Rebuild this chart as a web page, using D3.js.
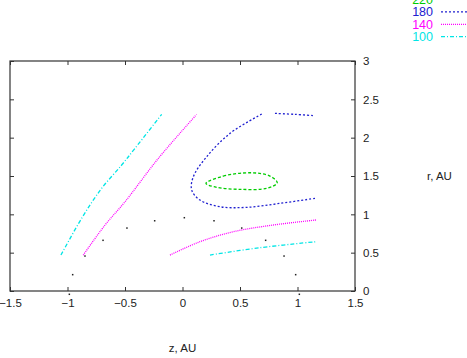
<!DOCTYPE html>
<html>
<head>
<meta charset="utf-8">
<script src="https://cdn.jsdelivr.net/npm/d3@7"></script>
<style>
  body { margin: 0; background: #fff; }
  svg { display: block; font-family: "Liberation Sans", Arial, sans-serif; }
</style>
</head>
<body>
<div id="chart"></div>
<script>
// contour levels, legend order
const levels = ["220", "180", "140", "100"];
const levelColors = ["#00cc00", "#2020d0", "#ff00ff", "#00e5e5"];
const levelDash = ["3,2", "2,2", "1,1", "4,2,1,2"];

const xTicks = [-1.5, -1, -0.5, 0, 0.5, 1, 1.5];
const yTicks = [0, 0.5, 1, 1.5, 2, 2.5, 3];

// contour pieces as [z, r]
const c220 = [[0.204, 1.404], [0.355, 1.499], [0.602, 1.542], [0.761, 1.499], [0.824, 1.412],
              [0.732, 1.339], [0.5, 1.326], [0.297, 1.352]];
const c180a = [[0.689, 2.308], [0.413, 2.056], [0.210, 1.751], [0.094, 1.490], [0.080, 1.317],
               [0.152, 1.186], [0.326, 1.099], [0.558, 1.091], [0.848, 1.143], [1.152, 1.209]];
const c180b = [[0.804, 2.317], [0.978, 2.304], [1.152, 2.286]];
const c140a = [[-0.863, 0.469], [-0.674, 0.860], [-0.5, 1.164], [-0.210, 1.730], [0.123, 2.304]];
const c140b = [[-0.109, 0.469], [0.152, 0.643], [0.442, 0.773], [0.790, 0.861], [1.161, 0.926]];
const c100a = [[-1.057, 0.469], [-0.877, 0.948], [-0.703, 1.339], [-0.529, 1.643],
               [-0.413, 1.861], [-0.181, 2.304]];
const c100b = [[0.239, 0.469], [0.674, 0.565], [1.161, 0.643]];

// black sample points
const dots = [[-0.984, -0.043], [-0.955, 0.213], [-0.848, 0.456], [-0.691, 0.661], [-0.483, 0.821],
              [-0.242, 0.916], [0.016, 0.956], [0.274, 0.916], [0.515, 0.821], [0.723, 0.661],
              [0.883, 0.456], [0.984, 0.213], [1.016, -0.043]];

const W = 467, H = 358;
const pLeft = 10, pRight = 355, pTop = 61, pBottom = 291;

let svg = d3.select("#chart").append("svg")
    .attr("width", W)
    .attr("height", H);

let x = d3.scaleLinear().domain([-1.5, 1.5]).range([pLeft, pRight]);
let y = d3.scaleLinear().domain([0, 3]).range([pBottom, pTop]);

let frameColor = "#333";
let tickLen = 4;

// axes: labels bottom and right, mirrored inward ticks
svg.append("g")
    .attr("transform", `translate(0,${pBottom})`)
    .call(d3.axisBottom(x).tickValues(xTicks).tickSize(-tickLen).tickPadding(8)
        .tickFormat(d3.format("")));
svg.append("g")
    .attr("transform", `translate(0,${pTop})`)
    .call(d3.axisTop(x).tickValues(xTicks).tickSize(-tickLen).tickFormat(""));
svg.append("g")
    .attr("transform", `translate(${pRight},0)`)
    .call(d3.axisRight(y).tickValues(yTicks).tickSize(-tickLen).tickPadding(8)
        .tickFormat(d3.format("")));
svg.append("g")
    .attr("transform", `translate(${pLeft},0)`)
    .call(d3.axisLeft(y).tickValues(yTicks).tickSize(-tickLen).tickFormat(""));

svg.selectAll(".domain").remove();
svg.selectAll(".tick line").attr("stroke", frameColor);
svg.selectAll(".tick text")
    .attr("fill", "#222")
    .style("font-size", "11.5px");

svg.append("rect")
    .attr("x", pLeft)
    .attr("y", pTop)
    .attr("width", pRight - pLeft)
    .attr("height", pBottom - pTop)
    .attr("fill", "none")
    .attr("stroke", frameColor)
    .attr("stroke-width", 1.2);

// axis titles
svg.append("text")
    .attr("x", x(0))
    .attr("y", 352)
    .attr("text-anchor", "middle")
    .attr("fill", "#222")
    .style("font-size", "11.5px")
    .text("z, AU");
svg.append("text")
    .attr("x", 427)
    .attr("y", y(1.5) + 4)
    .attr("fill", "#222")
    .style("font-size", "11.5px")
    .text("r, AU");

// contours
let line = d3.line()
    .x(d => x(d[0]))
    .y(d => y(d[1]))
    .curve(d3.curveCatmullRom);
let loop = d3.line()
    .x(d => x(d[0]))
    .y(d => y(d[1]))
    .curve(d3.curveCatmullRomClosed);

let pieces = [
    { lvl: 0, data: c220, closed: true },
    { lvl: 1, data: c180a },
    { lvl: 1, data: c180b },
    { lvl: 2, data: c140a },
    { lvl: 2, data: c140b },
    { lvl: 3, data: c100a },
    { lvl: 3, data: c100b }
];

svg.append("g")
    .selectAll("path")
    .data(pieces)
    .join("path")
    .attr("d", d => (d.closed ? loop : line)(d.data))
    .attr("fill", "none")
    .attr("stroke", d => levelColors[d.lvl])
    .attr("stroke-width", 1.3)
    .attr("stroke-dasharray", d => levelDash[d.lvl]);

svg.append("g")
    .selectAll("rect")
    .data(dots)
    .join("rect")
    .attr("x", d => x(d[0]) - 0.75)
    .attr("y", d => y(d[1]) - 0.75)
    .attr("width", 1.5)
    .attr("height", 1.5)
    .attr("fill", "#222");

// legend, top right (partly cut off at top)
let legend = svg.append("g")
    .selectAll("g")
    .data(levels)
    .join("g")
    .attr("transform", (d, i) => `translate(0,${-0.5 + i * 12.4})`);

legend.append("text")
    .attr("x", 433)
    .attr("y", 4.5)
    .attr("text-anchor", "end")
    .attr("fill", (d, i) => levelColors[i])
    .style("font-size", "12.5px")
    .text(d => d);

legend.append("line")
    .attr("x1", 441)
    .attr("x2", 470)
    .attr("stroke", (d, i) => levelColors[i])
    .attr("stroke-width", 1.2)
    .attr("stroke-dasharray", (d, i) => levelDash[i]);
</script>
</body>
</html>
